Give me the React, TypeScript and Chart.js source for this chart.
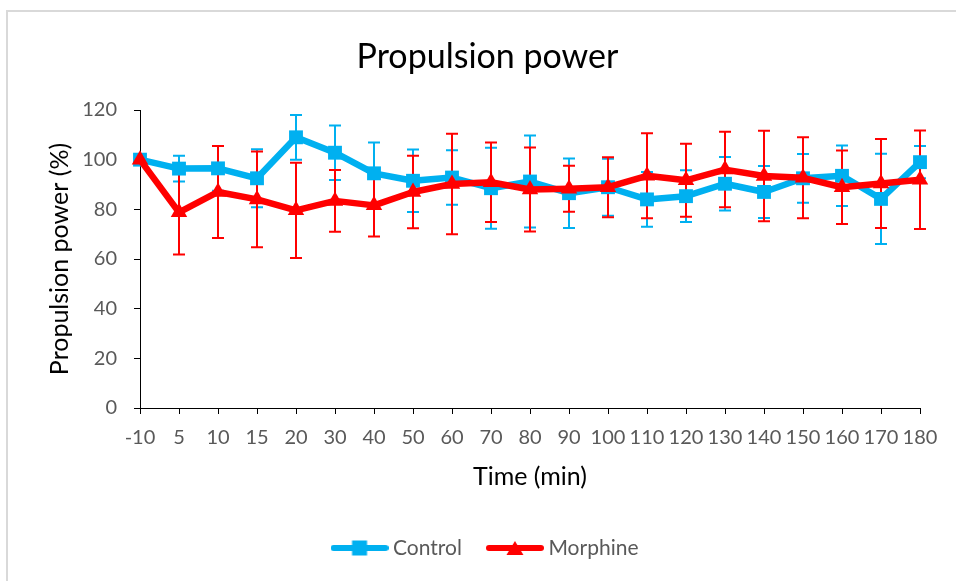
import React, { useEffect, useRef } from 'react';
import { Chart, registerables } from 'chart.js';

Chart.register(...registerables);

const timeLabels = ['-10', '5', '10', '15', '20', '30', '40', '50', '60', '70', '80', '90', '100', '110', '120', '130', '140', '150', '160', '170', '180'];
const controlMean = [100, 96.4, 96.5, 92.5, 109, 102.8, 94.5, 91.5, 92.8, 88.5, 91.2, 86.5, 88.9, 84, 85.3, 90.3, 87, 92.5, 93.5, 84.2, 99];
const controlErr = [0, 5.2, 9, 11.7, 9, 11, 12.4, 12.6, 11, 16.3, 18.5, 14, 11.5, 11, 10.4, 10.8, 10.5, 9.8, 12.2, 18.2, 6.5];
const morphineMean = [100, 78.8, 87, 84, 79.6, 83.4, 81.6, 87, 90.2, 90.9, 88, 88.3, 88.9, 93.5, 91.7, 96, 93.4, 92.7, 88.9, 90.4, 91.9];
const morphineErr = [0, 17, 18.5, 19.3, 19.2, 12.4, 12.5, 14.6, 20.2, 16, 16.9, 9.3, 12.1, 17.1, 14.7, 15.2, 18.2, 16.3, 14.8, 17.9, 19.8];
const seriesNames = ['Control', 'Morphine'];
const yMin = 0;
const yMax = 120;
const yStep = 20;

const CONTROL_COLOR = '#00B0F0';
const MORPHINE_COLOR = '#FF0000';
const FONT = "Lato, 'Open Sans', sans-serif";

function makeIcon(color: string, kind: 'rect' | 'triangle'): HTMLCanvasElement {
  const c = document.createElement('canvas');
  c.width = 58;
  c.height = 18;
  const g = c.getContext('2d')!;
  g.strokeStyle = color;
  g.fillStyle = color;
  g.lineWidth = 6;
  g.lineCap = 'round';
  g.beginPath();
  g.moveTo(3, 9);
  g.lineTo(55, 9);
  g.stroke();
  if (kind === 'rect') {
    g.fillRect(29 - 7.5, 9 - 7.5, 15, 15);
  } else {
    g.beginPath();
    g.moveTo(29, 2);
    g.lineTo(37.5, 16);
    g.lineTo(20.5, 16);
    g.closePath();
    g.fill();
  }
  return c;
}

const errorBarPlugin = {
  id: 'errorBars',
  beforeDatasetsDraw(chart: any) {
    const { ctx, scales } = chart;
    const x = scales.x;
    const y = scales.y;
    const sets = [
      { mean: controlMean, err: controlErr, color: CONTROL_COLOR },
      { mean: morphineMean, err: morphineErr, color: MORPHINE_COLOR },
    ];
    ctx.save();
    ctx.lineWidth = 2;
    sets.forEach((s) => {
      ctx.strokeStyle = s.color;
      s.mean.forEach((m, i) => {
        const e = s.err[i];
        if (!e) return;
        const px = x.getPixelForValue(i);
        const top = y.getPixelForValue(m + e);
        const bot = y.getPixelForValue(m - e);
        ctx.beginPath();
        ctx.moveTo(px, top);
        ctx.lineTo(px, bot);
        ctx.moveTo(px - 6, top);
        ctx.lineTo(px + 6, top);
        ctx.moveTo(px - 6, bot);
        ctx.lineTo(px + 6, bot);
        ctx.stroke();
      });
    });
    ctx.restore();
  },
};

const borderPlugin = {
  id: 'outerBorder',
  beforeDraw(chart: any) {
    const { ctx, width, height } = chart;
    ctx.save();
    ctx.fillStyle = '#ffffff';
    ctx.fillRect(0, 0, width, height);
    ctx.strokeStyle = '#d9d9d9';
    ctx.lineWidth = 2;
    ctx.beginPath();
    ctx.moveTo(7, height);
    ctx.lineTo(7, 11);
    ctx.lineTo(width, 11);
    ctx.stroke();
    ctx.restore();
  },
};

export default function App() {
  const ref = useRef<HTMLCanvasElement | null>(null);

  useEffect(() => {
    if (!ref.current) return;
    Chart.defaults.font.family = FONT;
    const icons = [makeIcon(CONTROL_COLOR, 'rect'), makeIcon(MORPHINE_COLOR, 'triangle')];
    const chart = new Chart(ref.current, {
      type: 'line',
      data: {
        labels: timeLabels,
        datasets: [
          {
            label: seriesNames[0],
            data: controlMean,
            borderColor: CONTROL_COLOR,
            backgroundColor: CONTROL_COLOR,
            borderWidth: 6.5,
            borderJoinStyle: 'round',
            borderCapStyle: 'round',
            pointStyle: 'rect',
            pointRadius: 9.8,
            pointBorderWidth: 0,
            pointBackgroundColor: CONTROL_COLOR,
            tension: 0,
            clip: false,
            order: 2,
          } as any,
          {
            label: seriesNames[1],
            data: morphineMean,
            borderColor: MORPHINE_COLOR,
            backgroundColor: MORPHINE_COLOR,
            borderWidth: 6.5,
            borderJoinStyle: 'round',
            borderCapStyle: 'round',
            pointStyle: 'triangle',
            pointRadius: 9.5,
            pointBorderWidth: 0,
            pointBackgroundColor: MORPHINE_COLOR,
            tension: 0,
            clip: false,
            order: 1,
          } as any,
        ],
      },
      options: {
        responsive: false,
        animation: false,
        devicePixelRatio: 1,
        layout: { padding: { left: 0, right: 0, top: 0, bottom: 12.5 } },
        plugins: {
          title: {
            display: true,
            text: 'Propulsion power',
            color: '#000000',
            font: { size: 34, weight: 'normal', family: FONT },
            padding: { top: 36.6, bottom: 32.6 },
          },
          legend: {
            position: 'bottom',
            labels: {
              usePointStyle: true,
              pointStyleWidth: 46,
              padding: 30,
              color: '#595959',
              font: { size: 21, family: FONT },
              sort: (a: any, b: any) => a.datasetIndex - b.datasetIndex,
              generateLabels: (c: any) => {
                const items = (Chart.defaults.plugins.legend.labels as any).generateLabels(c);
                return items.map((it: any) => ({ ...it, pointStyle: icons[it.datasetIndex] }));
              },
            },
          } as any,
          tooltip: { enabled: false },
        },
        scales: {
          x: {
            type: 'category',
            offset: false,
            grid: { display: true, drawOnChartArea: false, drawTicks: true, tickLength: 6, color: '#000000', offset: false },
            border: { display: true, color: '#000000', width: 1 },
            ticks: {
              autoSkip: false,
              maxRotation: 0,
              minRotation: 0,
              padding: 12,
              color: '#595959',
              font: { size: 20, family: FONT },
            },
            title: {
              display: true,
              text: 'Time (min)',
              color: '#000000',
              font: { size: 25, family: FONT },
              padding: { top: 0, bottom: 15.5 },
            },
            afterFit: (scale: any) => {
              scale.height = 99.5;
              scale.paddingRight = 55;
            },
          } as any,
          y: {
            min: yMin,
            max: yMax,
            grid: { display: true, drawOnChartArea: false, drawTicks: true, tickLength: 6, color: '#000000' },
            border: { display: true, color: '#000000', width: 1 },
            ticks: {
              stepSize: yStep,
              padding: 17,
              color: '#595959',
              font: { size: 20, family: FONT },
            },
            title: {
              display: true,
              text: 'Propulsion power (%)',
              color: '#000000',
              font: { size: 25, family: FONT },
              padding: { top: 45, bottom: 0 },
            },
            afterFit: (scale: any) => {
              scale.width = 140;
            },
          } as any,
        },
      },
      plugins: [borderPlugin, errorBarPlugin],
    });
    return () => chart.destroy();
  }, []);

  return (
    <div style={{ position: 'absolute', left: 0, top: 0, width: 956, height: 581, overflow: 'hidden', background: '#fff' }}>
      <canvas ref={ref} width={975} height={581} style={{ display: 'block' }} />
    </div>
  );
}
